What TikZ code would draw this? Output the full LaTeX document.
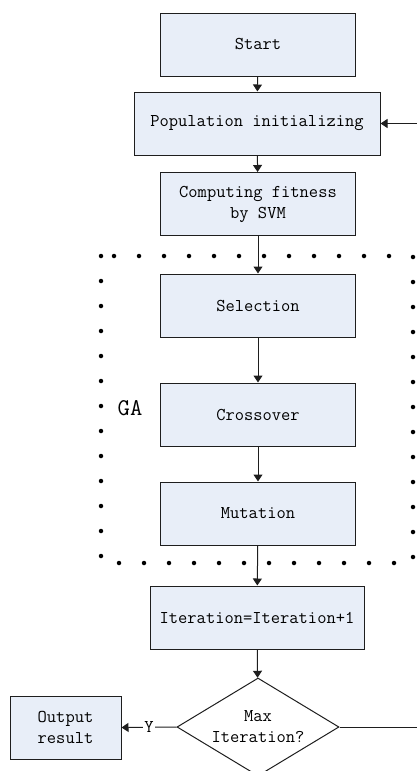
\documentclass[tikz,border=0pt]{standalone}
\usepackage{fontspec}
\usetikzlibrary{shapes.geometric,arrows.meta}

\definecolor{boxfill}{RGB}{232,238,248}
\definecolor{boxline}{RGB}{30,30,30}

\tikzset{
    procbox/.style={draw=boxline, fill=boxfill, line width=1pt, inner sep=0pt,
        minimum width=195pt, minimum height=63pt, align=center,
        font=\ttfamily\fontsize{18}{21}\selectfont},
    decbox/.style={procbox, diamond, fill=white, aspect=1.65,
        minimum width=162pt, minimum height=98pt},
    flow/.style={line width=1pt, draw=boxline, -{Triangle[width=9pt,length=7pt]}},
    plain/.style={line width=1pt, draw=boxline}
}

\begin{document}
\begin{tikzpicture}[x=1pt, y=-1pt]
    \useasboundingbox (0,0) rectangle (417,771);
    \clip (0,0) rectangle (417,771);

    % main chain
    \node[procbox] (start) at (258,44.5) {Start};
    \node[procbox, minimum width=246pt] (pop) at (257,123.5) {Population initializing};
    \node[procbox] (fit) at (258,204) {Computing fitness\\by SVM};

    % GA block
    \draw[line width=4.5pt, line cap=round, dash pattern=on 0pt off 25pt]
        (101,256) rectangle (413,563);
    \node[font=\ttfamily\fontsize{24}{28}\selectfont] (ga) at (130,408) {GA};
    \node[procbox] (sel) at (258,305.5) {Selection};
    \node[procbox] (cross) at (258,414.5) {Crossover};
    \node[procbox] (mut) at (258,513.5) {Mutation};

    % loop test
    \node[procbox, minimum width=214pt] (iter) at (257,617.5) {Iteration=Iteration+1};
    \node[decbox] (dec) at (258,727) {Max\\Iteration?};
    \node[procbox, minimum width=111pt] (out) at (65.5,727.5) {Output\\result};
    \coordinate (back) at (421,727);

    % connectors
    \draw[flow] (start) -- (pop);
    \draw[flow] (pop) -- (fit);
    \draw[flow] (fit) -- (sel);
    \draw[flow] (sel) -- (cross);
    \draw[flow] (cross) -- (mut);
    \draw[flow] (mut) -- (iter);
    \draw[flow] (iter) -- (dec);
    \draw[flow] (dec.west) -- node[fill=white, inner sep=1pt,
        font=\ttfamily\fontsize{18}{21}\selectfont] (yes) {Y} (out.east);
    \draw[flow] (dec.east) -- (back) |- (pop.east);
\end{tikzpicture}
\end{document}
